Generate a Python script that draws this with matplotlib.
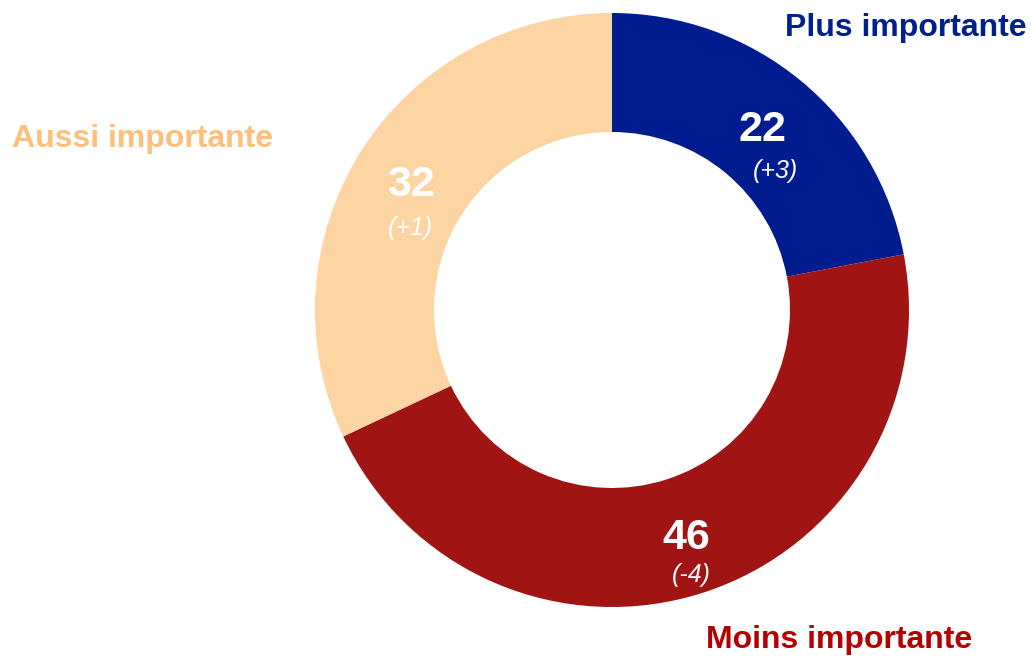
import matplotlib.pyplot as plt

plt.rcParams['font.family'] = ['Liberation Sans', 'DejaVu Sans']

# data
labels = ['Plus importante', 'Moins importante', 'Aussi importante']
values = [22, 46, 32]
changes = ['(+3)', '(-4)', '(+1)']
colors = ['#001c8f', '#a11414', '#fdd5a3']
label_colors = ['#00208c', '#b40000', '#fdbf7c']

W, H = 1031, 657
fig = plt.figure(figsize=(W / 100, H / 100), dpi=100)
ax = fig.add_axes([0, 0, 1, 1])

cx, cy, r = 612, H - 310, 297
ax.pie(values, colors=colors, startangle=90, counterclock=False,
       center=(cx, cy), radius=r, frame=True,
       wedgeprops=dict(width=119, linewidth=0))
ax.set_xlim(0, W)
ax.set_ylim(0, H)
ax.set_aspect('equal')
ax.axis('off')

# value labels (pixel positions)
num_pos = [(763, 130), (686, 538), (411, 185)]
chg_pos = [(775, 171), (691, 575), (410, 228)]
for v, c, (nx, ny), (px, py) in zip(values, changes, num_pos, chg_pos):
    ax.text(nx, H - ny, str(v), color='white', fontsize=31, fontweight='bold',
            ha='center', va='center')
    ax.text(px, H - py, c, color='white', fontsize=18, style='italic',
            ha='center', va='center')

# category labels
lab_pos = [(906, 28), (839, 640), (143, 139)]
for lab, col, (lx, ly) in zip(labels, label_colors, lab_pos):
    ax.text(lx, H - ly, lab, color=col, fontsize=23, fontweight='bold',
            ha='center', va='center')

fig.savefig('out.png', dpi=100)
